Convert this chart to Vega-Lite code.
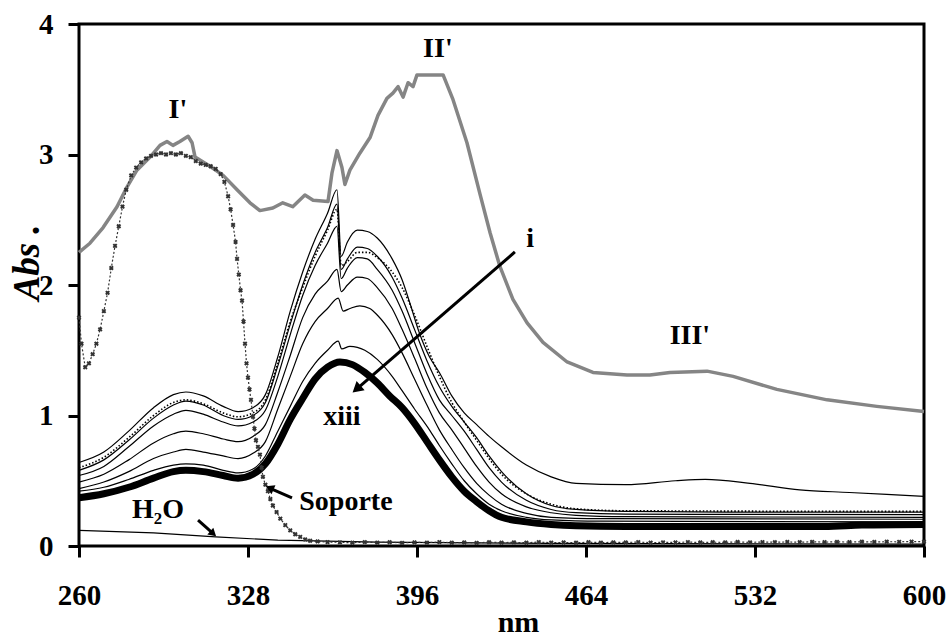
{
  "$schema": "https://vega.github.io/schema/vega-lite/v6.json",
  "width": 845,
  "height": 522,
  "autosize": {"type": "none"},
  "padding": {"left": 79, "top": 24, "right": 24, "bottom": 93},
  "background": "white",
  "config": {
    "view": {"stroke": "black", "strokeWidth": 3},
    "axis": {
      "grid": false,
      "domain": false,
      "ticks": true,
      "tickColor": "black",
      "tickWidth": 3,
      "tickSize": 11,
      "labelFont": "Liberation Serif",
      "labelFontWeight": "bold",
      "labelFontSize": 29,
      "labelColor": "black",
      "labelFlush": false,
      "labelOverlap": false,
      "titleFont": "Liberation Serif",
      "titleFontWeight": "bold",
      "titleColor": "black"
    },
    "text": {"font": "Liberation Serif", "fontWeight": "bold", "fontSize": 28, "color": "black"}
  },
  "datasets": {
    "espectros": [
      {"s":"gris","nm":260,"a":2.25},{"s":"gris","nm":264.4,"a":2.32},{"s":"gris","nm":269.7,"a":2.44},{"s":"gris","nm":275.3,"a":2.6},{"s":"gris","nm":279.3,"a":2.75},{"s":"gris","nm":283.3,"a":2.88},{"s":"gris","nm":288.6,"a":2.98},{"s":"gris","nm":292.6,"a":3.07},{"s":"gris","nm":295.4,"a":3.1},{"s":"gris","nm":297.8,"a":3.07},{"s":"gris","nm":300.6,"a":3.1},{"s":"gris","nm":303.9,"a":3.14},{"s":"gris","nm":305.5,"a":3.09},{"s":"gris","nm":306.7,"a":2.98},{"s":"gris","nm":312.7,"a":2.91},{"s":"gris","nm":318,"a":2.84},{"s":"gris","nm":323.6,"a":2.73},{"s":"gris","nm":328.8,"a":2.63},{"s":"gris","nm":332.8,"a":2.57},{"s":"gris","nm":338,"a":2.59},{"s":"gris","nm":342,"a":2.63},{"s":"gris","nm":346,"a":2.6},{"s":"gris","nm":350.9,"a":2.69},{"s":"gris","nm":354.2,"a":2.65},{"s":"gris","nm":360.2,"a":2.64},{"s":"gris","nm":361.8,"a":2.86},{"s":"gris","nm":363.8,"a":3.03},{"s":"gris","nm":365.8,"a":2.9},{"s":"gris","nm":367,"a":2.77},{"s":"gris","nm":369,"a":2.88},{"s":"gris","nm":373,"a":3.01},{"s":"gris","nm":377.1,"a":3.13},{"s":"gris","nm":380.3,"a":3.3},{"s":"gris","nm":383.9,"a":3.43},{"s":"gris","nm":386.3,"a":3.47},{"s":"gris","nm":388.4,"a":3.52},{"s":"gris","nm":390.4,"a":3.44},{"s":"gris","nm":392.4,"a":3.55},{"s":"gris","nm":394.4,"a":3.52},{"s":"gris","nm":396,"a":3.61},{"s":"gris","nm":406.5,"a":3.61},{"s":"gris","nm":410.5,"a":3.42},{"s":"gris","nm":416.1,"a":3.09},{"s":"gris","nm":421.3,"a":2.7},{"s":"gris","nm":425.4,"a":2.4},{"s":"gris","nm":429.4,"a":2.14},{"s":"gris","nm":434.6,"a":1.89},{"s":"gris","nm":440.3,"a":1.71},{"s":"gris","nm":446.7,"a":1.56},{"s":"gris","nm":456.4,"a":1.41},{"s":"gris","nm":466.8,"a":1.33},{"s":"gris","nm":480.5,"a":1.31},{"s":"gris","nm":489.7,"a":1.31},{"s":"gris","nm":497.8,"a":1.33},{"s":"gris","nm":512.7,"a":1.34},{"s":"gris","nm":523.2,"a":1.3},{"s":"gris","nm":540.8,"a":1.2},{"s":"gris","nm":561,"a":1.12},{"s":"gris","nm":581,"a":1.07},{"s":"gris","nm":600,"a":1.03},

      {"s":"i","nm":260,"a":0.64},{"s":"i","nm":270,"a":0.72},{"s":"i","nm":280,"a":0.88},{"s":"i","nm":290,"a":1.06},{"s":"i","nm":298,"a":1.16},{"s":"i","nm":303,"a":1.18},{"s":"i","nm":310,"a":1.15},{"s":"i","nm":318,"a":1.07},{"s":"i","nm":324,"a":1.03},{"s":"i","nm":330,"a":1.06},{"s":"i","nm":335,"a":1.16},{"s":"i","nm":340,"a":1.45},{"s":"i","nm":345,"a":1.8},{"s":"i","nm":350,"a":2.1},{"s":"i","nm":355,"a":2.35},{"s":"i","nm":360,"a":2.55},{"s":"i","nm":363.8,"a":2.73},{"s":"i","nm":365.5,"a":2.22},{"s":"i","nm":368,"a":2.33},{"s":"i","nm":372,"a":2.42},{"s":"i","nm":376,"a":2.41},{"s":"i","nm":380,"a":2.36},{"s":"i","nm":386,"a":2.2},{"s":"i","nm":390,"a":2.04},{"s":"i","nm":393,"a":1.87},{"s":"i","nm":397,"a":1.63},{"s":"i","nm":401,"a":1.45},{"s":"i","nm":405,"a":1.33},{"s":"i","nm":410,"a":1.15},{"s":"i","nm":415,"a":1.02},{"s":"i","nm":420,"a":0.93},{"s":"i","nm":425,"a":0.84},{"s":"i","nm":430,"a":0.76},{"s":"i","nm":440,"a":0.62},{"s":"i","nm":450,"a":0.53},{"s":"i","nm":460,"a":0.48},{"s":"i","nm":480,"a":0.47},{"s":"i","nm":500,"a":0.5},{"s":"i","nm":512,"a":0.51},{"s":"i","nm":530,"a":0.48},{"s":"i","nm":550,"a":0.43},{"s":"i","nm":570,"a":0.41},{"s":"i","nm":600,"a":0.38},

      {"s":"s2","nm":260,"a":0.58},{"s":"s2","nm":270,"a":0.66},{"s":"s2","nm":280,"a":0.81},{"s":"s2","nm":290,"a":0.98},{"s":"s2","nm":298,"a":1.08},{"s":"s2","nm":303,"a":1.11},{"s":"s2","nm":310,"a":1.08},{"s":"s2","nm":318,"a":1.0},{"s":"s2","nm":324,"a":0.97},{"s":"s2","nm":330,"a":1.0},{"s":"s2","nm":335,"a":1.1},{"s":"s2","nm":340,"a":1.38},{"s":"s2","nm":345,"a":1.7},{"s":"s2","nm":350,"a":2.0},{"s":"s2","nm":355,"a":2.25},{"s":"s2","nm":360,"a":2.44},{"s":"s2","nm":363.8,"a":2.62},{"s":"s2","nm":365.5,"a":2.12},{"s":"s2","nm":368,"a":2.2},{"s":"s2","nm":372,"a":2.29},{"s":"s2","nm":376,"a":2.28},{"s":"s2","nm":380,"a":2.22},{"s":"s2","nm":386,"a":2.06},{"s":"s2","nm":390,"a":1.9},{"s":"s2","nm":395,"a":1.66},{"s":"s2","nm":400,"a":1.42},{"s":"s2","nm":405,"a":1.22},{"s":"s2","nm":410,"a":1.07},{"s":"s2","nm":415,"a":0.95},{"s":"s2","nm":420,"a":0.83},{"s":"s2","nm":425,"a":0.69},{"s":"s2","nm":430,"a":0.57},{"s":"s2","nm":440,"a":0.4},{"s":"s2","nm":450,"a":0.31},{"s":"s2","nm":460,"a":0.28},{"s":"s2","nm":480,"a":0.265},{"s":"s2","nm":520,"a":0.26},{"s":"s2","nm":600,"a":0.26},

      {"s":"s3","nm":260,"a":0.54},{"s":"s3","nm":270,"a":0.61},{"s":"s3","nm":280,"a":0.76},{"s":"s3","nm":290,"a":0.92},{"s":"s3","nm":298,"a":1.01},{"s":"s3","nm":303,"a":1.04},{"s":"s3","nm":310,"a":1.01},{"s":"s3","nm":318,"a":0.95},{"s":"s3","nm":324,"a":0.92},{"s":"s3","nm":330,"a":0.95},{"s":"s3","nm":335,"a":1.04},{"s":"s3","nm":340,"a":1.3},{"s":"s3","nm":345,"a":1.62},{"s":"s3","nm":350,"a":1.92},{"s":"s3","nm":355,"a":2.15},{"s":"s3","nm":360,"a":2.32},{"s":"s3","nm":363.8,"a":2.45},{"s":"s3","nm":365.5,"a":2.05},{"s":"s3","nm":368,"a":2.13},{"s":"s3","nm":372,"a":2.21},{"s":"s3","nm":376,"a":2.2},{"s":"s3","nm":380,"a":2.12},{"s":"s3","nm":386,"a":1.96},{"s":"s3","nm":390,"a":1.8},{"s":"s3","nm":395,"a":1.56},{"s":"s3","nm":400,"a":1.32},{"s":"s3","nm":405,"a":1.12},{"s":"s3","nm":410,"a":1.0},{"s":"s3","nm":415,"a":0.88},{"s":"s3","nm":420,"a":0.74},{"s":"s3","nm":425,"a":0.6},{"s":"s3","nm":430,"a":0.49},{"s":"s3","nm":440,"a":0.35},{"s":"s3","nm":450,"a":0.28},{"s":"s3","nm":460,"a":0.255},{"s":"s3","nm":480,"a":0.245},{"s":"s3","nm":600,"a":0.24},

      {"s":"s4","nm":260,"a":0.49},{"s":"s4","nm":270,"a":0.55},{"s":"s4","nm":280,"a":0.66},{"s":"s4","nm":290,"a":0.79},{"s":"s4","nm":298,"a":0.86},{"s":"s4","nm":303,"a":0.88},{"s":"s4","nm":310,"a":0.86},{"s":"s4","nm":318,"a":0.82},{"s":"s4","nm":324,"a":0.8},{"s":"s4","nm":330,"a":0.84},{"s":"s4","nm":335,"a":0.93},{"s":"s4","nm":340,"a":1.18},{"s":"s4","nm":345,"a":1.46},{"s":"s4","nm":350,"a":1.75},{"s":"s4","nm":355,"a":1.93},{"s":"s4","nm":360,"a":2.03},{"s":"s4","nm":363.8,"a":2.12},{"s":"s4","nm":365.5,"a":1.95},{"s":"s4","nm":368,"a":2.0},{"s":"s4","nm":372,"a":2.06},{"s":"s4","nm":376,"a":2.05},{"s":"s4","nm":380,"a":1.98},{"s":"s4","nm":386,"a":1.82},{"s":"s4","nm":390,"a":1.66},{"s":"s4","nm":395,"a":1.44},{"s":"s4","nm":400,"a":1.21},{"s":"s4","nm":405,"a":1.02},{"s":"s4","nm":410,"a":0.89},{"s":"s4","nm":415,"a":0.75},{"s":"s4","nm":420,"a":0.61},{"s":"s4","nm":425,"a":0.49},{"s":"s4","nm":430,"a":0.4},{"s":"s4","nm":440,"a":0.3},{"s":"s4","nm":450,"a":0.255},{"s":"s4","nm":460,"a":0.235},{"s":"s4","nm":480,"a":0.225},{"s":"s4","nm":600,"a":0.22},

      {"s":"s5","nm":260,"a":0.44},{"s":"s5","nm":270,"a":0.49},{"s":"s5","nm":280,"a":0.57},{"s":"s5","nm":290,"a":0.67},{"s":"s5","nm":298,"a":0.72},{"s":"s5","nm":303,"a":0.74},{"s":"s5","nm":310,"a":0.72},{"s":"s5","nm":318,"a":0.69},{"s":"s5","nm":324,"a":0.67},{"s":"s5","nm":330,"a":0.71},{"s":"s5","nm":335,"a":0.8},{"s":"s5","nm":340,"a":1.05},{"s":"s5","nm":345,"a":1.3},{"s":"s5","nm":350,"a":1.55},{"s":"s5","nm":355,"a":1.72},{"s":"s5","nm":360,"a":1.82},{"s":"s5","nm":364.3,"a":1.9},{"s":"s5","nm":366.3,"a":1.8},{"s":"s5","nm":369,"a":1.82},{"s":"s5","nm":373,"a":1.84},{"s":"s5","nm":377,"a":1.82},{"s":"s5","nm":380,"a":1.77},{"s":"s5","nm":386,"a":1.62},{"s":"s5","nm":390,"a":1.48},{"s":"s5","nm":395,"a":1.28},{"s":"s5","nm":400,"a":1.08},{"s":"s5","nm":405,"a":0.89},{"s":"s5","nm":410,"a":0.74},{"s":"s5","nm":415,"a":0.6},{"s":"s5","nm":420,"a":0.48},{"s":"s5","nm":425,"a":0.39},{"s":"s5","nm":430,"a":0.32},{"s":"s5","nm":440,"a":0.25},{"s":"s5","nm":450,"a":0.22},{"s":"s5","nm":470,"a":0.21},{"s":"s5","nm":600,"a":0.205},

      {"s":"s6","nm":260,"a":0.42},{"s":"s6","nm":270,"a":0.45},{"s":"s6","nm":280,"a":0.51},{"s":"s6","nm":290,"a":0.58},{"s":"s6","nm":298,"a":0.62},{"s":"s6","nm":303,"a":0.63},{"s":"s6","nm":310,"a":0.62},{"s":"s6","nm":318,"a":0.58},{"s":"s6","nm":324,"a":0.56},{"s":"s6","nm":330,"a":0.59},{"s":"s6","nm":335,"a":0.69},{"s":"s6","nm":340,"a":0.88},{"s":"s6","nm":345,"a":1.07},{"s":"s6","nm":350,"a":1.26},{"s":"s6","nm":355,"a":1.4},{"s":"s6","nm":360,"a":1.5},{"s":"s6","nm":364.3,"a":1.57},{"s":"s6","nm":365.7,"a":1.51},{"s":"s6","nm":369,"a":1.53},{"s":"s6","nm":375,"a":1.5},{"s":"s6","nm":380,"a":1.43},{"s":"s6","nm":386,"a":1.3},{"s":"s6","nm":390,"a":1.19},{"s":"s6","nm":395,"a":1.05},{"s":"s6","nm":401,"a":0.89},{"s":"s6","nm":405,"a":0.77},{"s":"s6","nm":410,"a":0.63},{"s":"s6","nm":415,"a":0.5},{"s":"s6","nm":420,"a":0.4},{"s":"s6","nm":425,"a":0.32},{"s":"s6","nm":430,"a":0.27},{"s":"s6","nm":440,"a":0.22},{"s":"s6","nm":450,"a":0.2},{"s":"s6","nm":470,"a":0.19},{"s":"s6","nm":600,"a":0.185},

      {"s":"punteada","nm":260,"a":0.6},{"s":"punteada","nm":270,"a":0.68},{"s":"punteada","nm":280,"a":0.83},{"s":"punteada","nm":290,"a":1.0},{"s":"punteada","nm":298,"a":1.1},{"s":"punteada","nm":303,"a":1.12},{"s":"punteada","nm":310,"a":1.09},{"s":"punteada","nm":318,"a":1.02},{"s":"punteada","nm":324,"a":0.99},{"s":"punteada","nm":330,"a":1.02},{"s":"punteada","nm":335,"a":1.12},{"s":"punteada","nm":340,"a":1.4},{"s":"punteada","nm":345,"a":1.72},{"s":"punteada","nm":350,"a":1.98},{"s":"punteada","nm":355,"a":2.22},{"s":"punteada","nm":360,"a":2.42},{"s":"punteada","nm":363.8,"a":2.58},{"s":"punteada","nm":365.5,"a":2.15},{"s":"punteada","nm":368,"a":2.18},{"s":"punteada","nm":372,"a":2.25},{"s":"punteada","nm":376,"a":2.25},{"s":"punteada","nm":380,"a":2.21},{"s":"punteada","nm":386,"a":2.1},{"s":"punteada","nm":390,"a":1.98},{"s":"punteada","nm":395,"a":1.77},{"s":"punteada","nm":400,"a":1.53},{"s":"punteada","nm":405,"a":1.3},{"s":"punteada","nm":410,"a":1.1},{"s":"punteada","nm":415,"a":0.95},{"s":"punteada","nm":420,"a":0.81},{"s":"punteada","nm":425,"a":0.67},{"s":"punteada","nm":430,"a":0.55},{"s":"punteada","nm":440,"a":0.4},{"s":"punteada","nm":450,"a":0.32},{"s":"punteada","nm":460,"a":0.285},{"s":"punteada","nm":480,"a":0.27},{"s":"punteada","nm":600,"a":0.265},

      {"s":"xiii","nm":260,"a":0.37},{"s":"xiii","nm":270,"a":0.4},{"s":"xiii","nm":280,"a":0.45},{"s":"xiii","nm":290,"a":0.52},{"s":"xiii","nm":298,"a":0.57},{"s":"xiii","nm":303,"a":0.58},{"s":"xiii","nm":310,"a":0.57},{"s":"xiii","nm":318,"a":0.54},{"s":"xiii","nm":324,"a":0.52},{"s":"xiii","nm":330,"a":0.55},{"s":"xiii","nm":335,"a":0.63},{"s":"xiii","nm":340,"a":0.78},{"s":"xiii","nm":345,"a":0.97},{"s":"xiii","nm":350,"a":1.13},{"s":"xiii","nm":355,"a":1.28},{"s":"xiii","nm":360,"a":1.37},{"s":"xiii","nm":365,"a":1.41},{"s":"xiii","nm":370,"a":1.39},{"s":"xiii","nm":375,"a":1.33},{"s":"xiii","nm":380,"a":1.25},{"s":"xiii","nm":385,"a":1.15},{"s":"xiii","nm":390,"a":1.06},{"s":"xiii","nm":395,"a":0.94},{"s":"xiii","nm":400,"a":0.8},{"s":"xiii","nm":405,"a":0.66},{"s":"xiii","nm":410,"a":0.53},{"s":"xiii","nm":415,"a":0.42},{"s":"xiii","nm":420,"a":0.34},{"s":"xiii","nm":425,"a":0.27},{"s":"xiii","nm":430,"a":0.22},{"s":"xiii","nm":440,"a":0.185},{"s":"xiii","nm":450,"a":0.165},{"s":"xiii","nm":460,"a":0.155},{"s":"xiii","nm":480,"a":0.15},{"s":"xiii","nm":560,"a":0.15},{"s":"xiii","nm":575,"a":0.16},{"s":"xiii","nm":600,"a":0.165},

      {"s":"agua","nm":260,"a":0.12},{"s":"agua","nm":290,"a":0.1},{"s":"agua","nm":315,"a":0.07},{"s":"agua","nm":340,"a":0.045},{"s":"agua","nm":380,"a":0.03},{"s":"agua","nm":450,"a":0.02},{"s":"agua","nm":600,"a":0.015},

      {"s":"soporte","nm":260,"a":1.75},{"s":"soporte","nm":261,"a":1.55},{"s":"soporte","nm":262.5,"a":1.37},{"s":"soporte","nm":264,"a":1.4},{"s":"soporte","nm":265.5,"a":1.47},{"s":"soporte","nm":267,"a":1.55},{"s":"soporte","nm":268.5,"a":1.66},{"s":"soporte","nm":270,"a":1.8},{"s":"soporte","nm":271.5,"a":1.94},{"s":"soporte","nm":273,"a":2.13},{"s":"soporte","nm":274.5,"a":2.3},{"s":"soporte","nm":276,"a":2.45},{"s":"soporte","nm":277.5,"a":2.6},{"s":"soporte","nm":279,"a":2.73},{"s":"soporte","nm":281,"a":2.84},{"s":"soporte","nm":283,"a":2.9},{"s":"soporte","nm":285,"a":2.94},{"s":"soporte","nm":287,"a":2.97},{"s":"soporte","nm":289,"a":2.99},{"s":"soporte","nm":291,"a":3.0},{"s":"soporte","nm":293,"a":3.01},{"s":"soporte","nm":295,"a":3.0},{"s":"soporte","nm":297,"a":3.01},{"s":"soporte","nm":299,"a":3.0},{"s":"soporte","nm":301,"a":3.01},{"s":"soporte","nm":303,"a":2.99},{"s":"soporte","nm":305,"a":2.98},{"s":"soporte","nm":307,"a":2.95},{"s":"soporte","nm":309,"a":2.93},{"s":"soporte","nm":311,"a":2.92},{"s":"soporte","nm":313,"a":2.91},{"s":"soporte","nm":315,"a":2.89},{"s":"soporte","nm":317,"a":2.85},{"s":"soporte","nm":318.5,"a":2.79},{"s":"soporte","nm":320,"a":2.68},{"s":"soporte","nm":321,"a":2.58},{"s":"soporte","nm":322,"a":2.46},{"s":"soporte","nm":323,"a":2.33},{"s":"soporte","nm":323.6,"a":2.2},{"s":"soporte","nm":324.3,"a":2.08},{"s":"soporte","nm":325,"a":1.96},{"s":"soporte","nm":325.6,"a":1.88},{"s":"soporte","nm":326.2,"a":1.72},{"s":"soporte","nm":326.8,"a":1.55},{"s":"soporte","nm":327.4,"a":1.4},{"s":"soporte","nm":328,"a":1.29},{"s":"soporte","nm":328.6,"a":1.2},{"s":"soporte","nm":329.2,"a":1.12},{"s":"soporte","nm":330,"a":0.99},{"s":"soporte","nm":330.6,"a":0.9},{"s":"soporte","nm":331.2,"a":0.81},{"s":"soporte","nm":332,"a":0.76},{"s":"soporte","nm":332.8,"a":0.7},{"s":"soporte","nm":333.5,"a":0.6},{"s":"soporte","nm":334,"a":0.53},{"s":"soporte","nm":335,"a":0.47},{"s":"soporte","nm":336,"a":0.42},{"s":"soporte","nm":337,"a":0.36},{"s":"soporte","nm":338,"a":0.31},{"s":"soporte","nm":339.5,"a":0.26},{"s":"soporte","nm":341,"a":0.21},{"s":"soporte","nm":343,"a":0.16},{"s":"soporte","nm":345,"a":0.12},{"s":"soporte","nm":347,"a":0.09},{"s":"soporte","nm":349,"a":0.07},{"s":"soporte","nm":351,"a":0.05},{"s":"soporte","nm":353,"a":0.04},{"s":"soporte","nm":356,"a":0.035},{"s":"soporte","nm":360,"a":0.03},{"s":"soporte","nm":365,"a":0.028},{"s":"soporte","nm":370,"a":0.025},{"s":"soporte","nm":375,"a":0.03},{"s":"soporte","nm":380,"a":0.026},{"s":"soporte","nm":385,"a":0.029},{"s":"soporte","nm":390,"a":0.024},{"s":"soporte","nm":395,"a":0.028},{"s":"soporte","nm":400,"a":0.026},{"s":"soporte","nm":405,"a":0.03},{"s":"soporte","nm":410,"a":0.025},{"s":"soporte","nm":415,"a":0.027},{"s":"soporte","nm":420,"a":0.024},{"s":"soporte","nm":425,"a":0.029},{"s":"soporte","nm":430,"a":0.026},{"s":"soporte","nm":435,"a":0.028},{"s":"soporte","nm":440,"a":0.025},{"s":"soporte","nm":445,"a":0.03},{"s":"soporte","nm":450,"a":0.026},{"s":"soporte","nm":455,"a":0.027},{"s":"soporte","nm":460,"a":0.025},{"s":"soporte","nm":465,"a":0.029},{"s":"soporte","nm":470,"a":0.026},{"s":"soporte","nm":475,"a":0.028},{"s":"soporte","nm":480,"a":0.027},{"s":"soporte","nm":485,"a":0.03},{"s":"soporte","nm":490,"a":0.026},{"s":"soporte","nm":495,"a":0.028},{"s":"soporte","nm":500,"a":0.027},{"s":"soporte","nm":505,"a":0.03},{"s":"soporte","nm":510,"a":0.027},{"s":"soporte","nm":515,"a":0.029},{"s":"soporte","nm":520,"a":0.028},{"s":"soporte","nm":525,"a":0.031},{"s":"soporte","nm":530,"a":0.028},{"s":"soporte","nm":535,"a":0.03},{"s":"soporte","nm":540,"a":0.029},{"s":"soporte","nm":545,"a":0.031},{"s":"soporte","nm":550,"a":0.029},{"s":"soporte","nm":555,"a":0.032},{"s":"soporte","nm":560,"a":0.03},{"s":"soporte","nm":565,"a":0.032},{"s":"soporte","nm":570,"a":0.03},{"s":"soporte","nm":575,"a":0.033},{"s":"soporte","nm":580,"a":0.031},{"s":"soporte","nm":585,"a":0.033},{"s":"soporte","nm":590,"a":0.032},{"s":"soporte","nm":595,"a":0.034},{"s":"soporte","nm":600,"a":0.033}
    ],
    "notas": [
      {"t":"I'","nm":299.8,"a":3.28},
      {"t":"II'","nm":404.4,"a":3.747},
      {"t":"III'","nm":505.8,"a":1.548},
      {"t":"i","nm":441.5,"a":2.291},
      {"t":"xiii","nm":365.8,"a":0.927},
      {"t":"H₂O","nm":291.8,"a":0.215},
      {"t":"Soporte","nm":367.4,"a":0.276}
    ],
    "flechas": [
      {"f":"i","k":0,"nm":435.4,"a":2.253},{"f":"i","k":1,"nm":371.7,"a":1.202},
      {"f":"soporte","k":0,"nm":345.7,"a":0.368},{"f":"soporte","k":1,"nm":336.7,"a":0.444},
      {"f":"agua","k":0,"nm":307.9,"a":0.199},{"f":"agua","k":1,"nm":314.0,"a":0.094}
    ]
  },
  "data": {"name": "espectros"},
  "encoding": {
    "x": {
      "field": "nm", "type": "quantitative",
      "scale": {"domain": [260, 600], "nice": false, "zero": false},
      "axis": {
        "values": [260, 328, 396, 464, 532, 600],
        "labelPadding": 24,
        "title": "nm",
        "titleFontSize": 30,
        "titleX": 439,
        "titleY": 85,
        "titleAlign": "center",
        "titleBaseline": "alphabetic"
      }
    },
    "y": {
      "field": "a", "type": "quantitative",
      "scale": {"domain": [0, 4], "nice": false},
      "axis": {
        "values": [0, 1, 2, 3, 4],
        "labelPadding": 15,
        "title": "Abs .",
        "titleFontSize": 37,
        "titleFontStyle": "italic",
        "titleAngle": 270,
        "titleX": -41,
        "titleY": 238,
        "titleAlign": "center",
        "titleBaseline": "alphabetic"
      }
    }
  },
  "layer": [
    {
      "transform": [{"filter": "datum.s === 'gris'"}],
      "mark": {"type": "line", "color": "#858585", "strokeWidth": 3.5, "strokeJoin": "round"}
    },
    {
      "transform": [{"filter": "indexof(['i','s2','s3','s4','s5','s6'], datum.s) >= 0"}],
      "mark": {"type": "line", "color": "black", "strokeWidth": 1.2, "interpolate": "monotone"},
      "encoding": {"detail": {"field": "s"}}
    },
    {
      "transform": [{"filter": "datum.s === 'punteada'"}],
      "mark": {"type": "line", "color": "black", "strokeWidth": 1.6, "strokeDash": [1.5, 2], "interpolate": "monotone"}
    },
    {
      "transform": [{"filter": "datum.s === 'xiii'"}],
      "mark": {"type": "line", "color": "black", "strokeWidth": 7, "interpolate": "monotone"}
    },
    {
      "transform": [{"filter": "datum.s === 'agua'"}],
      "mark": {"type": "line", "color": "black", "strokeWidth": 1.2}
    },
    {
      "transform": [{"filter": "datum.s === 'soporte'"}],
      "mark": {"type": "line", "color": "#333333", "strokeWidth": 1.2, "strokeDash": [2, 2]}
    },
    {
      "transform": [{"filter": "datum.s === 'soporte'"}],
      "mark": {"type": "point", "shape": "cross", "angle": 45, "filled": true, "color": "#333333", "size": 24, "opacity": 1}
    },
    {
      "data": {"name": "flechas"},
      "mark": {"type": "line", "color": "black", "strokeWidth": 3},
      "encoding": {"detail": {"field": "f"}, "order": {"field": "k"}}
    },
    {
      "data": {"name": "flechas"},
      "transform": [{"filter": "datum.f === 'i' && datum.k === 1"}],
      "mark": {"type": "point", "shape": "triangle-up", "filled": true, "color": "black", "size": 150, "angle": 229, "opacity": 1}
    },
    {
      "data": {"name": "flechas"},
      "transform": [{"filter": "datum.f === 'soporte' && datum.k === 1"}],
      "mark": {"type": "point", "shape": "triangle-up", "filled": true, "color": "black", "size": 95, "angle": 294, "opacity": 1}
    },
    {
      "data": {"name": "flechas"},
      "transform": [{"filter": "datum.f === 'agua' && datum.k === 1"}],
      "mark": {"type": "point", "shape": "triangle-up", "filled": true, "color": "black", "size": 80, "angle": 132, "opacity": 1}
    },
    {
      "data": {"name": "notas"},
      "mark": {"type": "text", "align": "center", "baseline": "alphabetic"},
      "encoding": {"text": {"field": "t"}}
    }
  ]
}
